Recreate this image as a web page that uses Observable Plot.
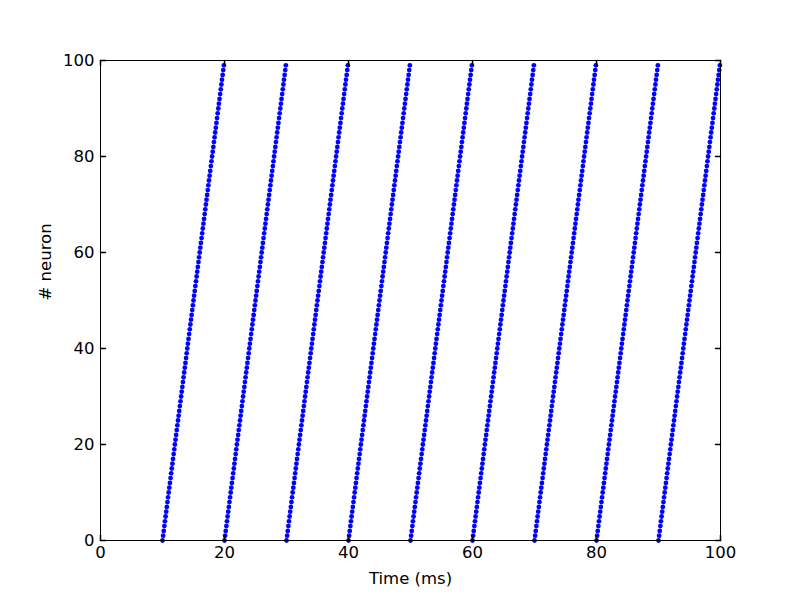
<!DOCTYPE html>
<html>
<head>
<meta charset="utf-8">
<script src="https://cdn.jsdelivr.net/npm/d3@7"></script>
<script src="https://cdn.jsdelivr.net/npm/@observablehq/plot@0.6"></script>
<style>
  html, body { margin: 0; padding: 0; background: #ffffff; }
  #chart { width: 800px; height: 600px; }
</style>
</head>
<body>
<div id="chart"></div>
<script>
// Burst onsets (ms) of each wave of the raster
const waveOnsets = [10, 20, 30, 40, 50, 60, 70, 80, 90];
// Neuron indices
const neurons = [
  0,1,2,3,4,5,6,7,8,9,10,11,12,13,14,15,16,17,18,19,
  20,21,22,23,24,25,26,27,28,29,30,31,32,33,34,35,36,37,38,39,
  40,41,42,43,44,45,46,47,48,49,50,51,52,53,54,55,56,57,58,59,
  60,61,62,63,64,65,66,67,68,69,70,71,72,73,74,75,76,77,78,79,
  80,81,82,83,84,85,86,87,88,89,90,91,92,93,94,95,96,97,98,99
];
// Spike delay (ms) of each neuron relative to wave onset
const delays = [
  0.0,0.1,0.2,0.3,0.4,0.5,0.6,0.7,0.8,0.9,1.0,1.1,1.2,1.3,1.4,1.5,1.6,1.7,1.8,1.9,
  2.0,2.1,2.2,2.3,2.4,2.5,2.6,2.7,2.8,2.9,3.0,3.1,3.2,3.3,3.4,3.5,3.6,3.7,3.8,3.9,
  4.0,4.1,4.2,4.3,4.4,4.5,4.6,4.7,4.8,4.9,5.0,5.1,5.2,5.3,5.4,5.5,5.6,5.7,5.8,5.9,
  6.0,6.1,6.2,6.3,6.4,6.5,6.6,6.7,6.8,6.9,7.0,7.1,7.2,7.3,7.4,7.5,7.6,7.7,7.8,7.9,
  8.0,8.1,8.2,8.3,8.4,8.5,8.6,8.7,8.8,8.9,9.0,9.1,9.2,9.3,9.4,9.5,9.6,9.7,9.8,9.9
];
const xTicks = [0, 20, 40, 60, 80, 100];
const yTicks = [0, 20, 40, 60, 80, 100];

const spikes = waveOnsets.flatMap(t0 =>
  neurons.map((n, i) => ({time: t0 + delays[i], neuron: n}))
);

// plain line shape for tick marks (no arrowhead)
const tickShape = {draw(context, l) { context.moveTo(0, 0); context.lineTo(0, -l); }};

const plot = Plot.plot({
  width: 800,
  height: 600,
  marginLeft: 100,
  marginRight: 80,
  marginTop: 60,
  marginBottom: 60,
  style: {fontFamily: "'DejaVu Sans', sans-serif", fontSize: "16.5px", color: "#000", background: "#fff"},
  x: {domain: [0, 100]},
  y: {domain: [0, 100]},
  marks: [
    Plot.dot(spikes, {x: "time", y: "neuron", r: 2.4, fill: "#0000ff", stroke: "none"}),
    Plot.frame({stroke: "#000", strokeWidth: 1}),
    // inward ticks on all four sides
    Plot.vector(xTicks, {x: d => d, y: () => 0, length: 5, rotate: 0, anchor: "start", shape: tickShape, stroke: "#000"}),
    Plot.vector(xTicks, {x: d => d, y: () => 100, length: 5, rotate: 180, anchor: "start", shape: tickShape, stroke: "#000"}),
    Plot.vector(yTicks, {x: () => 0, y: d => d, length: 5, rotate: 90, anchor: "start", shape: tickShape, stroke: "#000"}),
    Plot.vector(yTicks, {x: () => 100, y: d => d, length: 5, rotate: 270, anchor: "start", shape: tickShape, stroke: "#000"}),
    Plot.axisX(xTicks, {tickSize: 0, tickPadding: 6, label: null, fontSize: 16.5}),
    Plot.axisY(yTicks, {tickSize: 0, tickPadding: 6, label: null, fontSize: 16.5}),
    Plot.text(["Time (ms)"], {frameAnchor: "bottom", dy: 38, lineAnchor: "middle", fontSize: 16.5}),
    Plot.text(["# neuron"], {frameAnchor: "left", dx: -55, rotate: -90, lineAnchor: "middle", fontSize: 16.5})
  ]
});
document.getElementById("chart").appendChild(plot);
</script>
</body>
</html>
